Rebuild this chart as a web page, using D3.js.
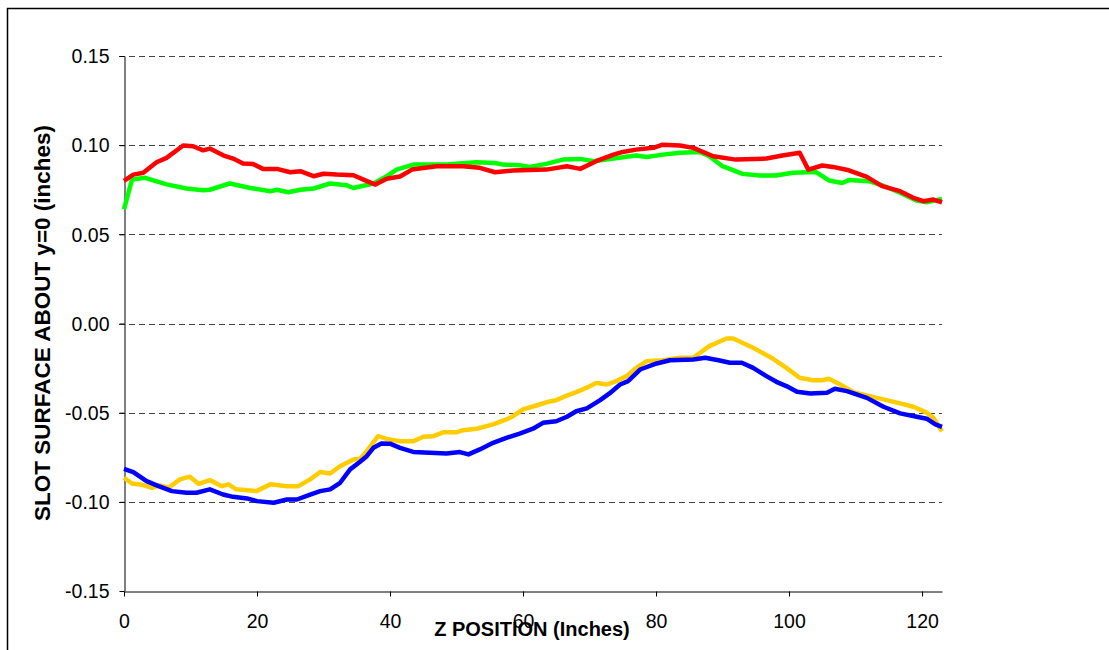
<!DOCTYPE html>
<html>
<head>
<meta charset="utf-8">
<script src="https://cdn.jsdelivr.net/npm/d3@7"></script>
<style>
  html, body { margin: 0; padding: 0; background: #fff; }
  svg { display: block; font-family: Arial, "Liberation Sans", sans-serif; }
</style>
</head>
<body>
<svg id="chart" width="1109" height="650"></svg>
<script>
// slot surface readings, [z inches, offset inches]
const redData = [[0,0.080],[1.4,0.0835],[2.9,0.0845],[4.9,0.0904],[6.4,0.0929],[8.9,0.0998],[10.4,0.0994],[11.9,0.0971],[12.9,0.0981],[14.9,0.0943],[16.4,0.0925],[17.9,0.0897],[19.4,0.0895],[20.9,0.0867],[23,0.0867],[25,0.0848],[26.5,0.0854],[28.5,0.0826],[30,0.084],[32,0.0835],[34.5,0.0831],[36,0.0807],[37.8,0.0779],[39.5,0.0812],[41.5,0.0824],[43.3,0.0863],[47,0.0882],[51,0.0882],[53.5,0.0873],[55.8,0.0848],[58.5,0.0858],[63.5,0.0863],[66.6,0.0882],[68.6,0.0867],[71,0.091],[73.6,0.0947],[75,0.0962],[77,0.0975],[79.6,0.0985],[81,0.1003],[83.6,0.0998],[85.6,0.0985],[88.6,0.0938],[92,0.0919],[96.6,0.0925],[99,0.0942],[101.6,0.0957],[102.9,0.0863],[105,0.0886],[106.6,0.0878],[109,0.0859],[111.7,0.0822],[114,0.077],[116.7,0.0742],[118.6,0.0706],[120.2,0.0686],[121.7,0.0695],[123,0.068]];

const greenData = [[0,0.064],[1.2,0.0807],[3.2,0.0817],[6.4,0.078],[9.4,0.0757],[11.9,0.0747],[12.9,0.075],[15.9,0.0785],[19,0.076],[22,0.0742],[23,0.075],[24.7,0.0736],[26.5,0.075],[28.5,0.0757],[31,0.0785],[33.5,0.0775],[34.5,0.076],[37.5,0.0785],[39.5,0.0826],[41,0.0863],[43.5,0.0891],[48.5,0.0891],[53,0.0904],[55.8,0.09],[57,0.0891],[59.5,0.0887],[61,0.0878],[63.5,0.0895],[66,0.0919],[68.6,0.0923],[70.6,0.091],[73.6,0.0925],[77,0.0942],[78.6,0.0934],[81,0.0947],[83.6,0.0957],[86.6,0.0962],[88,0.0938],[90,0.0882],[93,0.0839],[95.6,0.083],[98,0.083],[100.6,0.0845],[104,0.085],[106,0.0802],[108,0.0788],[109,0.0804],[112,0.0798],[114,0.0775],[116.7,0.0733],[119.2,0.0689],[120.7,0.068],[123,0.0699]];

const goldData = [[0,-0.0865],[1.2,-0.0897],[2.9,-0.0906],[4.2,-0.0921],[5.4,-0.0908],[6.7,-0.0921],[8.4,-0.0874],[9.9,-0.0859],[11.2,-0.0899],[12.9,-0.0878],[14.7,-0.0912],[15.7,-0.0902],[16.9,-0.093],[19.9,-0.094],[22,-0.0902],[24.5,-0.0912],[26.2,-0.0912],[28,-0.0874],[29.5,-0.0833],[31,-0.0841],[32.5,-0.08],[34.5,-0.0762],[35.5,-0.0759],[36.5,-0.0716],[38.2,-0.0632],[39.5,-0.0647],[41.5,-0.066],[43.5,-0.066],[45,-0.0635],[46.5,-0.0632],[48,-0.061],[50,-0.061],[51,-0.0598],[53,-0.059],[55.5,-0.0566],[57.5,-0.0538],[58.5,-0.052],[60,-0.0482],[62,-0.046],[64,-0.0437],[65,-0.043],[66.6,-0.0404],[68,-0.0385],[69.6,-0.036],[71,-0.0333],[72.6,-0.0342],[74,-0.0323],[75.6,-0.0295],[77,-0.0249],[78.6,-0.0211],[81,-0.0206],[83.6,-0.0192],[85.6,-0.0192],[88,-0.0127],[90.6,-0.0084],[91.6,-0.0084],[94.6,-0.0136],[97.6,-0.0198],[99.6,-0.0249],[101.6,-0.0304],[103.6,-0.0318],[105,-0.0318],[106,-0.031],[107.7,-0.0342],[109.7,-0.0385],[113.2,-0.0417],[116.7,-0.0448],[118.7,-0.0467],[120.7,-0.05],[121.7,-0.0529],[123,-0.0604]];

const blueData = [[0,-0.0815],[1.4,-0.0833],[3.4,-0.0884],[5.2,-0.0912],[7.2,-0.094],[9.4,-0.0949],[10.9,-0.0949],[12.9,-0.093],[14.9,-0.0959],[16.4,-0.0972],[18.5,-0.0981],[20,-0.0996],[22.5,-0.1005],[24.5,-0.0987],[26,-0.0987],[28,-0.0959],[29.5,-0.094],[31,-0.093],[32.5,-0.0893],[34,-0.0818],[35.5,-0.0775],[36.5,-0.0744],[37.5,-0.0697],[38.7,-0.0673],[40,-0.0674],[41.5,-0.0697],[43.5,-0.072],[46,-0.0725],[48.5,-0.0729],[50.5,-0.0721],[51.8,-0.0734],[53.5,-0.0706],[55.5,-0.0669],[57.5,-0.0641],[59.5,-0.0617],[61.5,-0.059],[63,-0.0557],[65,-0.0548],[66.6,-0.0523],[68,-0.0492],[69.6,-0.0476],[71.6,-0.043],[73,-0.0392],[74.6,-0.0342],[75.8,-0.0323],[77.6,-0.0258],[80.1,-0.0224],[82.1,-0.0206],[85.6,-0.0202],[87.4,-0.0192],[89.4,-0.0206],[91.1,-0.022],[92.9,-0.022],[94.6,-0.0249],[96.6,-0.0295],[98.1,-0.0327],[99.6,-0.0351],[101.2,-0.0383],[103.2,-0.0392],[105.7,-0.0389],[106.9,-0.0366],[108.7,-0.0379],[111.7,-0.0417],[114.2,-0.0467],[116.7,-0.0504],[119.2,-0.0523],[120.7,-0.0534],[122,-0.0566],[123,-0.0579]];

const xTicks = [0, 20, 40, 60, 80, 100, 120];
const yTicks = [-0.15, -0.10, -0.05, 0, 0.05, 0.10, 0.15];

const series = [
  { name: 'gold', data: goldData, color: '#ffcc00' },
  { name: 'blue', data: blueData, color: '#0000ff' },
  { name: 'green', data: greenData, color: '#00ff00' },
  { name: 'red', data: redData, color: '#ff0000' }
];

const svg = d3.select('#chart');
const plotLeft = 124, plotRight = 942, plotTop = 56, plotBottom = 591;

const x = d3.scaleLinear().domain([0, 123]).range([plotLeft, plotRight]);
const y = d3.scaleLinear().domain([-0.15, 0.15]).range([plotBottom, plotTop]);

// outer frame
svg.append('rect')
  .attr('x', 7.5).attr('y', 8.5)
  .attr('width', 1120).attr('height', 660)
  .attr('fill', 'none').attr('stroke', '#000').attr('stroke-width', 1.5);

// dashed gridlines
svg.append('g')
  .selectAll('line')
  .data(yTicks.filter(d => d > -0.15))
  .enter()
  .append('line')
  .attr('x1', plotLeft - 5).attr('x2', plotRight)
  .attr('y1', d => Math.round(y(d)) + 0.5)
  .attr('y2', d => Math.round(y(d)) + 0.5)
  .attr('stroke', '#444')
  .attr('stroke-dasharray', '6,4');

// axes
const xAxis = svg.append('g')
  .attr('transform', 'translate(0,' + (plotBottom + 0.5) + ')')
  .call(d3.axisBottom(x).tickValues(xTicks).tickSize(5).tickSizeOuter(0).tickPadding(18));

// excel style labels: plain hyphen for negatives
const fmtY = d => d3.format('.2f')(d).replace('\u2212', '-');

const yAxis = svg.append('g')
  .attr('transform', 'translate(' + (plotLeft + 0.5) + ',0)')
  .call(d3.axisLeft(y).tickValues(yTicks).tickFormat(fmtY).tickSize(5).tickSizeOuter(0).tickPadding(10));

[xAxis, yAxis].forEach(g => {
  g.select('.domain').attr('stroke', '#000');
  g.selectAll('.tick line').attr('stroke', '#000');
  g.selectAll('.tick text')
    .attr('fill', '#000')
    .style('font-size', '19.5px')
    .style('font-family', 'Arial, "Liberation Sans", sans-serif');
});
yAxis.selectAll('.tick text').attr('dy', '0.35em');

// lines
const line = d3.line()
  .x(d => x(d[0]))
  .y(d => y(d[1]));

svg.append('g')
  .selectAll('path')
  .data(series)
  .enter()
  .append('path')
  .attr('d', d => line(d.data))
  .attr('fill', 'none')
  .attr('stroke', d => d.color)
  .attr('stroke-width', 4.5)
  .attr('stroke-linejoin', 'round')
  .attr('stroke-linecap', 'butt');

// titles
svg.append('text')
  .attr('x', 532).attr('y', 636)
  .attr('text-anchor', 'middle')
  .style('font-size', '20px')
  .style('font-weight', 'bold')
  .text('Z POSITION (Inches)');

svg.append('text')
  .attr('transform', 'translate(50,323) rotate(-90)')
  .attr('text-anchor', 'middle')
  .style('font-size', '22.5px')
  .style('font-weight', 'bold')
  .text('SLOT SURFACE ABOUT y=0 (inches)');
</script>
</body>
</html>
